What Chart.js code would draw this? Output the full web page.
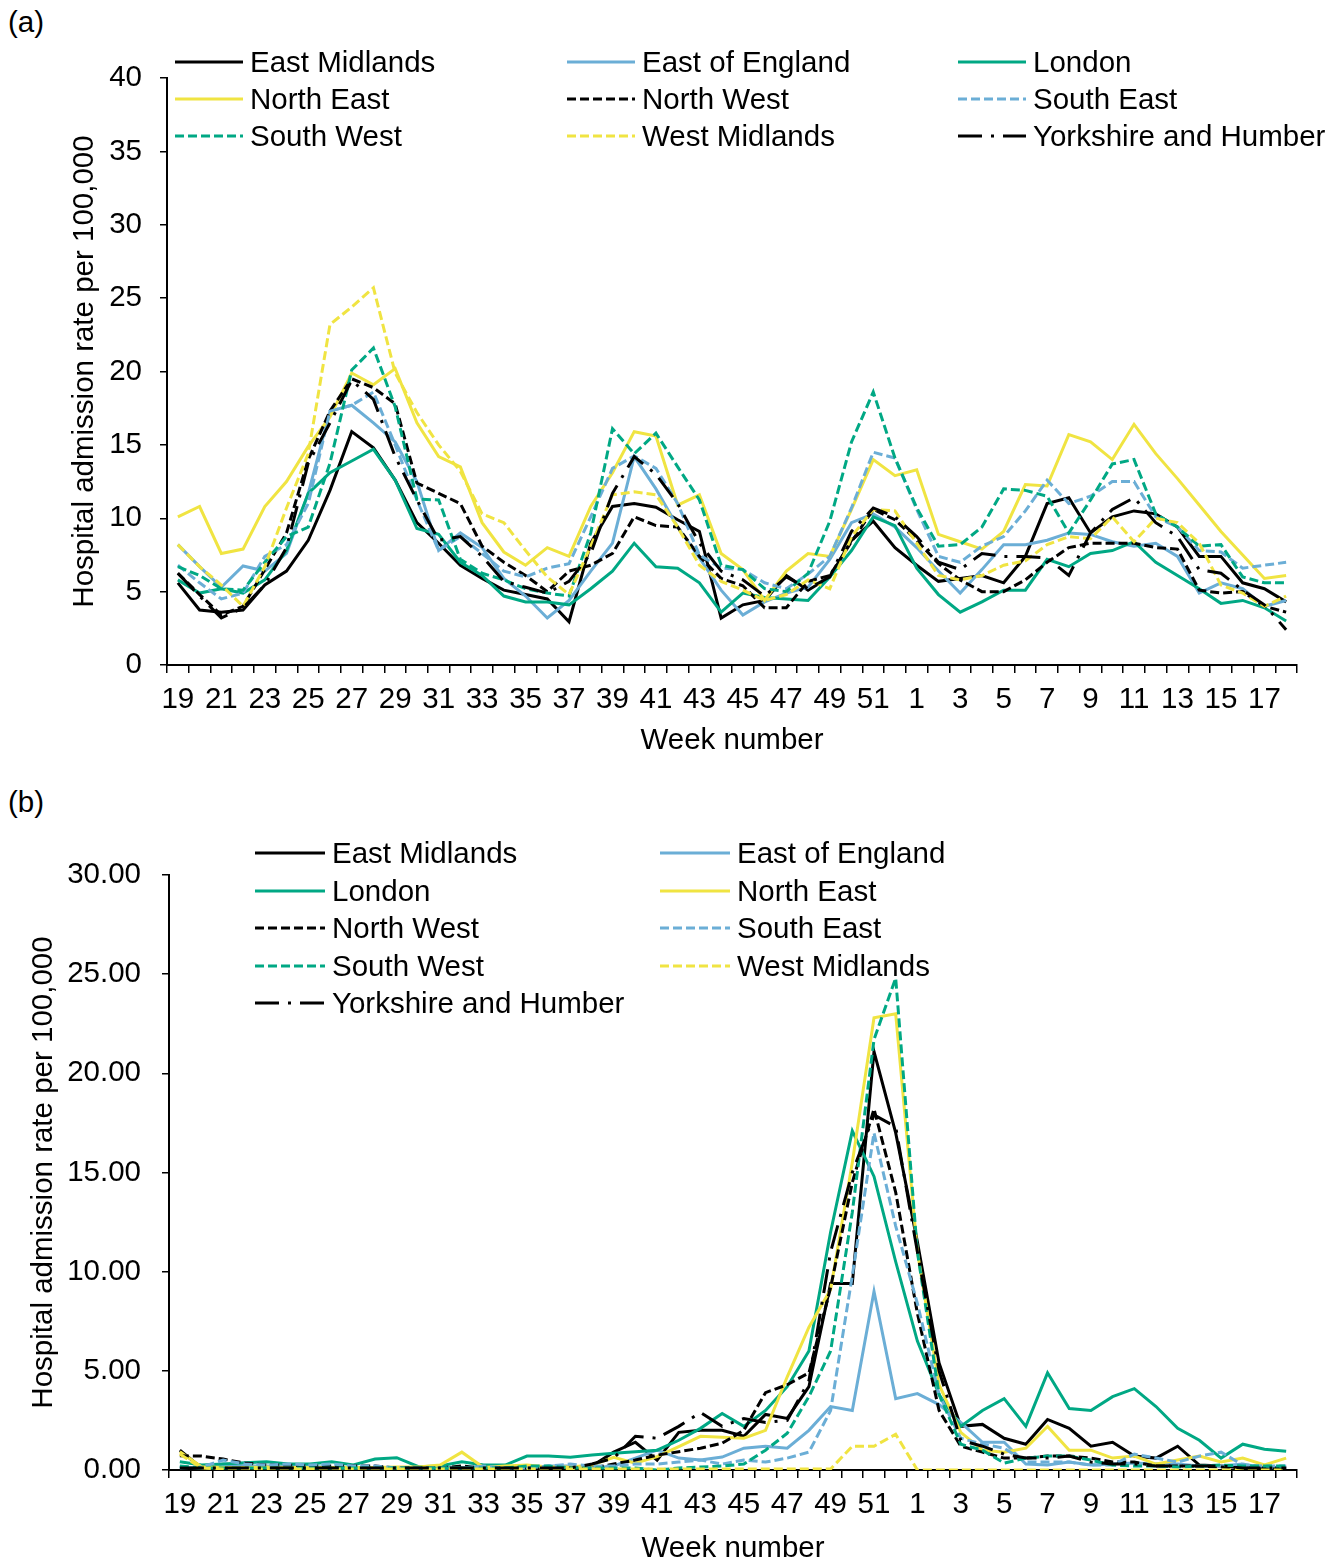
<!DOCTYPE html>
<html><head><meta charset="utf-8">
<script src="https://cdn.jsdelivr.net/npm/chart.js@4.4.1/dist/chart.umd.min.js"></script>
<style>
body{margin:0;background:#fff;font-family:"Liberation Sans",Arial,sans-serif;color:#000;}
#wrap{position:relative;width:1343px;height:1567px;overflow:hidden;background:#fff;}
canvas{position:absolute;left:0;}
.tag{position:absolute;left:8px;font-size:29.5px;line-height:34px;}
.item{position:absolute;display:flex;align-items:center;white-space:nowrap;font-size:29.5px;line-height:34px;height:34px;}
.item svg{display:block;margin-right:7px;}
</style></head>
<body><div id="wrap">
<div class="tag" style="top:5px">(a)</div>
<div class="tag" style="top:785px">(b)</div>
<canvas id="ca" width="1343" height="770" style="top:0"></canvas>
<canvas id="cb" width="1343" height="787" style="top:780px"></canvas>
<div id="lega"></div><div id="legb"></div>
</div>
<script>
const weeks = [19,20,21,22,23,24,25,26,27,28,29,30,31,32,33,34,35,36,37,38,39,40,41,42,43,44,45,46,47,48,49,50,51,52,1,2,3,4,5,6,7,8,9,10,11,12,13,14,15,16,17,18];
const regions = ['East Midlands','East of England','London','North East','North West','South East','South West','West Midlands','Yorkshire and Humber'];

// Panel (a)
const a_eastMidlands = [5.6,3.75,3.6,3.75,5.45,6.4,8.5,11.9,15.9,14.8,12.6,9.7,8.3, 6.8,5.9,5.1,4.8,4.5,2.95,8.3,10.8,11.0,10.75,9.9,9.1,3.2, 4.1,4.4,6.1,5.1,6.0,8.5,9.8,8.0,6.8,5.7,5.9,6.1,5.6, 7.4,11.0,11.4,9.0,10.1,10.5,10.3,9.4,7.4,7.4,5.6,5.2,4.3];
const a_eastOfEngland = [8.2,6.7,5.3,6.75,6.4,7.6,11.7,17.3,17.7,16.5,15.2,12.5,7.8, 9.0,8.0,5.9,4.7,3.2,4.4,6.4,8.3,14.2,12.0,9.4,7.3,5.1, 3.4,4.3,4.9,5.3,7.2,9.7,10.3,9.4,8.0,6.4,4.9,6.5,8.2, 8.2,8.5,9.0,8.9,8.4,8.1,8.3,7.4,4.9,5.6,5.2,4.0,4.4];
const a_london = [5.8,4.9,5.2,4.9,5.8,7.8,11.7,13.1,13.9,14.7,12.6,9.3,8.9, 7.0,6.1,4.7,4.3,4.3,4.1,5.2,6.4,8.3,6.7,6.6,5.6,3.6, 4.9,4.6,4.5,4.4,6.0,7.8,10.1,9.5,6.6,4.8,3.6,4.3,5.1, 5.1,7.2,6.7,7.6,7.8,8.4,7.0,6.1,5.2,4.2,4.4,3.9,3.0];
const a_northEast = [10.1,10.8,7.6,7.9,10.8,12.5,14.9,16.9,19.9,19.1,20.2,16.5,14.2, 13.5,9.7,7.7,6.8,8.0,7.4,10.8,13.1,15.9,15.6,10.9,11.6,7.6, 6.5,4.4,6.4,7.6,7.4,10.6,14.0,12.9,13.3,8.9,8.4,7.9,9.1, 12.3,12.2,15.7,15.2,14.0,16.4,14.4,12.7,10.9,9.1,7.5,5.9,6.1];
const a_northWest = [6.25,4.8,3.4,4.0,6.5,9.0,14.0,17.3,19.5,18.9,17.8,12.4,11.7, 11.0,8.1,7.0,6.1,5.0,6.4,6.8,7.6,10.1,9.5,9.4,7.4,5.9, 5.4,3.9,3.9,5.7,6.1,8.4,10.6,9.9,8.5,6.9,5.8,5.0,5.0, 5.8,7.0,8.0,8.3,8.3,8.3,8.0,7.9,5.1,4.9,5.0,4.0,3.6];
const a_southEast = [6.8,5.6,4.5,4.9,7.4,8.2,11.0,17.3,17.7,18.6,15.0,11.25,7.8, 8.75,7.6,6.4,6.0,6.6,6.9,10.1,13.4,14.25,13.4,11.0,7.5,6.6, 6.5,5.6,5.2,6.2,7.4,10.7,14.5,14.1,10.6,7.4,7.0,8.1,8.75, 10.5,12.6,11.0,11.5,12.5,12.5,10.1,9.4,7.8,7.7,6.6,6.8,7.0];
const a_southWest = [6.7,6.1,5.2,5.1,7.0,8.75,9.4,13.75,20.1,21.6,17.6,11.3,11.25, 7.2,6.25,5.8,5.2,4.9,4.7,9.0,16.1,14.4,15.8,13.5,11.25,6.8, 6.5,5.2,5.0,6.25,9.8,15.2,18.6,14.1,10.7,8.1,8.2,9.4,12.0, 11.9,11.5,9.0,11.25,13.7,14.0,10.3,9.4,8.1,8.2,6.0,5.6,5.6];
const a_westMidlands = [8.2,6.7,5.45,4.0,6.7,10.7,14.4,23.2,24.4,25.7,19.9,17.2,15.0, 13.2,10.3,9.7,7.8,6.0,4.8,8.1,11.6,11.8,11.6,9.4,6.8,5.7, 5.1,4.4,4.8,5.8,5.2,8.75,10.6,10.5,8.3,6.1,5.8,6.1,6.8, 7.1,8.2,8.75,8.6,10.1,8.4,10.0,9.7,8.3,5.45,4.9,4.0,4.7];
const a_yorkshire = [6.25,4.7,3.2,3.9,5.45,8.0,13.75,16.5,19.4,18.1,14.2,11.25,8.5, 8.75,7.4,5.7,5.3,4.9,5.7,7.6,11.7,14.2,13.0,11.0,8.3,6.4, 5.8,4.7,6.0,5.2,6.0,9.1,10.7,10.1,8.75,7.0,6.5,7.6,7.4, 7.4,7.3,6.1,9.0,10.6,11.4,9.7,8.75,6.5,6.25,5.1,4.1,2.4];

// Panel (b)
const b_eastMidlands = [1.0,0.1,0.1,0.1,0.1,0.1,0.1,0.1,0.1,0.1,0.1,0.1,0.1, 0.1,0.1,0.1,0.1,0.1,0.1,0.2,0.9,1.4,0.5,1.9,2.0,2.0, 1.7,2.8,2.6,4.2,9.4,9.4,21.1,17.0,11.5,5.4,2.2,2.3,1.6, 1.3,2.55,2.1,1.2,1.4,0.7,0.6,1.2,0.25,0.2,0.1,0.1,0.1];
const b_eastOfEngland = [0.15,0.1,0.3,0.2,0.2,0.2,0.2,0.1,0.1,0.1,0.1,0.1,0.1, 0.1,0.2,0.1,0.1,0.2,0.2,0.1,0.2,0.6,1.0,0.6,0.5,0.65, 1.1,1.2,1.1,2.0,3.2,3.0,9.0,3.6,3.85,3.3,2.4,1.4,1.4, 0.3,0.25,0.4,0.25,0.3,0.35,0.3,0.3,0.2,0.2,0.3,0.1,0.15];
const b_london = [0.42,0.25,0.3,0.37,0.42,0.3,0.3,0.42,0.25,0.55,0.62,0.17,0.2, 0.42,0.25,0.25,0.7,0.7,0.64,0.76,0.84,0.92,1.0,1.5,2.1,2.85, 2.2,3.0,4.2,6.0,12.0,17.1,14.8,10.5,6.5,3.8,2.2,3.0,3.6, 2.2,4.9,3.1,3.0,3.7,4.1,3.2,2.1,1.5,0.6,1.3,1.05,0.95];
const b_northEast = [0.92,0.17,0.12,0.12,0.15,0.12,0.12,0.12,0.12,0.12,0.15,0.15,0.25, 0.9,0.13,0.2,0.25,0.15,0.15,0.25,0.64,0.34,0.67,1.18,1.7,1.65, 1.6,2.0,4.7,7.2,9.1,15.5,22.8,23.0,11.0,4.3,1.9,1.0,0.9, 1.1,2.2,1.0,1.0,0.6,0.7,0.3,0.5,0.7,0.4,0.6,0.25,0.6];
const b_northWest = [0.72,0.7,0.55,0.35,0.25,0.25,0.2,0.2,0.2,0.2,0.1,0.1,0.1, 0.2,0.1,0.1,0.1,0.1,0.1,0.1,0.3,0.5,0.75,0.92,1.1,1.35, 2.0,3.9,4.3,4.9,9.2,14.5,18.2,14.0,7.9,3.0,1.2,0.9,0.6, 0.6,0.7,0.7,0.6,0.4,0.4,0.2,0.2,0.2,0.15,0.1,0.1,0.1];
const b_southEast = [0.1,0.15,0.5,0.3,0.25,0.3,0.25,0.3,0.2,0.2,0.1,0.1,0.1, 0.1,0.2,0.1,0.1,0.2,0.3,0.2,0.2,0.3,0.3,0.4,0.5,0.3, 0.5,0.4,0.6,0.9,3.0,9.8,17.0,12.3,8.4,3.8,1.6,1.3,1.1, 0.4,0.4,0.4,0.25,0.25,0.8,0.6,0.4,0.7,0.9,0.25,0.2,0.2];
const b_southWest = [0.2,0.1,0.1,0.1,0.1,0.1,0.1,0.1,0.1,0.1,0.1,0.1,0.1, 0.1,0.1,0.1,0.2,0.2,0.1,0.1,0.1,0.1,0.0,0.1,0.15,0.2, 0.3,1.0,1.85,3.7,6.0,13.0,21.7,24.8,11.0,3.8,1.3,1.0,0.35, 0.6,0.7,0.7,0.5,0.25,0.2,0.2,0.15,0.2,0.25,0.2,0.2,0.2];
const b_westMidlands = [0.8,0.1,0.05,0.05,0.05,0.05,0.05,0.05,0.05,0.05,0.05,0.05,0.05, 0.05,0.05,0.05,0.05,0.05,0.05,0.05,0.05,0.05,0.05,0.05,0.05,0.05, 0.05,0.05,0.05,0.05,0.05,1.2,1.2,1.8,0,0,0,0,0, 0,0,0,0,0,0,0,0,0,0,0,0,0];
const b_yorkshire = [0.1,0.1,0.1,0.1,0.1,0.1,0.1,0.1,0.1,0.1,0.1,0.1,0.1, 0.1,0.1,0.1,0.1,0.1,0.1,0.3,0.6,1.7,1.6,2.2,2.9,2.2, 2.6,2.4,2.5,4.5,11.0,15.0,17.9,17.3,11.0,5.0,1.5,1.2,0.8, 0.6,0.6,0.7,0.4,0.3,0.3,0.2,0.2,0.2,0.2,0.1,0.1,0.1];

const seriesA = [a_eastMidlands,a_eastOfEngland,a_london,a_northEast,a_northWest,a_southEast,a_southWest,a_westMidlands,a_yorkshire];
const seriesB = [b_eastMidlands,b_eastOfEngland,b_london,b_northEast,b_northWest,b_southEast,b_southWest,b_westMidlands,b_yorkshire];

const colors = ['#000000','#6BAED6','#00A884','#F0E442','#000000','#6BAED6','#00A884','#F0E442','#000000'];
const dashes = [[],[],[],[],[9,4],[9,4],[9,4],[9,4],[24,9,3,9]];
const FONT = "'Liberation Sans', Arial, sans-serif";
const FS = 29.5;
Chart.defaults.font.family = FONT;
Chart.defaults.color = '#000';

function makeDatasets(series){
  return series.map((d,i)=>({
    label: regions[i], data: d, borderColor: colors[i], backgroundColor: colors[i],
    borderWidth: 3, borderDash: dashes[i], pointRadius: 0, tension: 0, fill: false,
    borderCapStyle: 'butt', borderJoinStyle: 'miter', order: 8 - i
  }));
}

function makeChart(id, series, cfg){
  return new Chart(document.getElementById(id), {
    type: 'line',
    data: { labels: weeks.map(String), datasets: makeDatasets(series) },
    options: {
      responsive: false, animation: false, devicePixelRatio: 1,
      layout: { padding: cfg.padding },
      plugins: { legend: { display: false }, tooltip: { enabled: false } },
      scales: {
        x: {
          type: 'category', offset: true,
          grid: { offset: true, drawOnChartArea: false, drawTicks: true, tickLength: 8, color: '#000', lineWidth: 1.5 },
          border: { display: true, color: '#000', width: 2 },
          ticks: { autoSkip: false, maxRotation: 0, minRotation: 0, padding: 9, color: '#000', font: { size: FS },
                   callback: (v, i) => (i % 2 === 0 ? String(weeks[i]) : '') },
          title: { display: true, text: 'Week number', color: '#000', font: { size: FS }, padding: { top: 0, bottom: cfg.xTitlePad } },
          afterFit: s => { s.height = cfg.xHeight; }
        },
        y: {
          min: 0, max: cfg.yMax,
          grid: { drawOnChartArea: false, drawTicks: true, tickLength: 7, color: '#000', lineWidth: 1.5 },
          border: { display: true, color: '#000', width: 2 },
          ticks: { stepSize: 5, padding: cfg.yTickPad, color: '#000', font: { size: FS }, callback: cfg.yFmt },
          title: { display: true, text: 'Hospital admission rate per 100,000', color: '#000', font: { size: FS }, padding: { top: cfg.yTitlePad, bottom: 0 } },
          afterFit: s => { s.width = cfg.yWidth; }
        }
      }
    }
  });
}

makeChart('ca', seriesA, { padding: { left: 0, right: 46, top: 78, bottom: 0 }, xHeight: 105, yWidth: 167, yMax: 40,
  xTitlePad: 11, yTitlePad: 67, yTickPad: 18, yFmt: v => String(v) });
makeChart('cb', seriesB, { padding: { left: 0, right: 46, top: 95, bottom: 0 }, xHeight: 97, yWidth: 169, yMax: 30,
  xTitlePad: 0, yTitlePad: 26, yTickPad: 21, yFmt: v => Number(v).toFixed(2) });

function buildLegend(el, cols, rows, lineLen){
  const host = document.getElementById(el);
  regions.forEach((name, i) => {
    const c = i % cols.length, r = Math.floor(i / cols.length);
    const div = document.createElement('div');
    div.className = 'item';
    div.style.left = cols[c] + 'px';
    div.style.top = (rows[r] - 17) + 'px';
    const svgNS = 'http://www.w3.org/2000/svg';
    const svg = document.createElementNS(svgNS, 'svg');
    svg.setAttribute('width', lineLen); svg.setAttribute('height', 6);
    const ln = document.createElementNS(svgNS, 'line');
    ln.setAttribute('x1', 0); ln.setAttribute('y1', 3); ln.setAttribute('x2', lineLen); ln.setAttribute('y2', 3);
    ln.setAttribute('stroke', colors[i]); ln.setAttribute('stroke-width', 3);
    if (dashes[i].length) ln.setAttribute('stroke-dasharray', dashes[i].join(' '));
    svg.appendChild(ln);
    const sp = document.createElement('span'); sp.textContent = name;
    div.appendChild(svg); div.appendChild(sp);
    host.appendChild(div);
  });
}
buildLegend('lega', [175, 567, 958], [62, 99, 136], 68);
buildLegend('legb', [255, 660], [853, 891, 928, 966, 1003], 70);
</script>
</body></html>
